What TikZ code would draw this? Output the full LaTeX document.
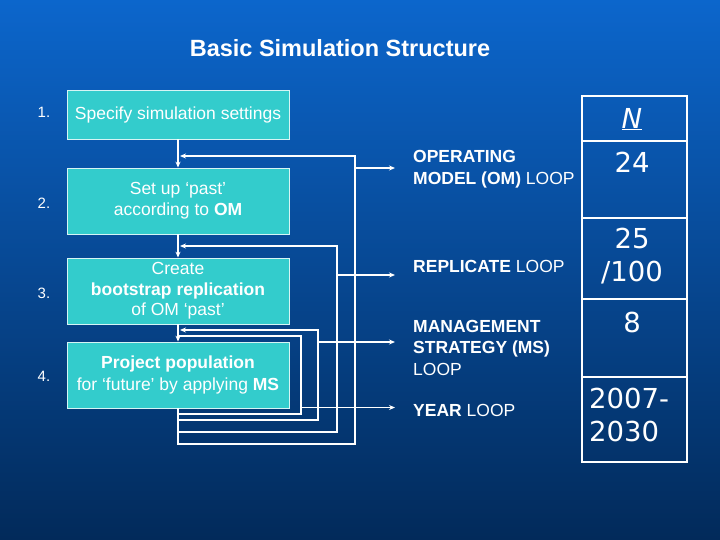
\documentclass[tikz,border=0pt]{standalone}
\usepackage{fontspec}
\setmainfont{Liberation Sans}
\newfontfamily\digitfont{DejaVu Sans}
\usetikzlibrary{arrows.meta}
\definecolor{bgtop}{RGB}{12,102,204}
\definecolor{bgmid}{RGB}{8,76,165}
\definecolor{bgbot}{RGB}{2,42,90}
\definecolor{boxfill}{RGB}{51,204,204}
\begin{document}
\begin{tikzpicture}[x=1pt,y=-1pt,
  stepbox/.style={draw=white!80!boxfill, line width=0.8pt, fill=boxfill, minimum width=222pt, inner sep=0pt, text=white, align=center, font=\fontsize{17.5}{21}\selectfont},
  wire/.style={draw=white, line width=1.3pt},
  arr/.style={wire, -{Stealth[length=6pt,width=5pt]}},
  lbl/.style={text=white, anchor=west, align=left, inner sep=0pt, font=\fontsize{17.5}{21.5}\selectfont},
  num/.style={text=white, font=\fontsize{15}{17}\selectfont, inner sep=0pt},
  cell/.style={draw=white, line width=1.2pt, minimum width=105pt, inner sep=0pt},
  big/.style={text=white, inner sep=0pt, font=\digitfont\fontsize{27.5}{33}\selectfont}]
\useasboundingbox (0,0) rectangle (720,540);
\shade[top color=bgtop, middle color=bgmid, bottom color=bgbot] (0,0) rectangle (720,540);

% title
\node[text=white, font=\bfseries\fontsize{23.5}{28}\selectfont] (title) at (340,48) {Basic Simulation Structure};

% step numbers
\node[num] (n1) at (44,112) {1.};
\node[num] (n2) at (44,203) {2.};
\node[num] (n3) at (44,293) {3.};
\node[num] (n4) at (44,376) {4.};

% step boxes
\node[stepbox, minimum height=49pt] (b1) at (178,114.5) {Specify simulation settings};
\node[stepbox, minimum height=66pt] (b2) at (178,201) {Set up ‘past’\\according to \textbf{OM}};
\node[stepbox, minimum height=66pt, font=\fontsize{17.5}{20.5}\selectfont] (b3) at (178,291) {Create\\\textbf{bootstrap replication}\\of OM ‘past’};
\node[stepbox, minimum height=66pt, font=\fontsize{17.5}{22}\selectfont] (b4) at (178,375) {\textbf{Project population}\\for ‘future’ by applying \textbf{MS}};

% main flow
\draw[arr] (b1.south) -- (b2.north);
\draw[arr] (b2.south) -- (b3.north);
\draw[arr] (b3.south) -- (b4.north);

% loop return coordinates
\coordinate (eA) at (180,156);
\coordinate (eB) at (180,246);
\coordinate (eC) at (180,330);
\coordinate (eD) at (178,336);

\draw[arr] (b4.south) |- (355,444) |- (eA);
\draw[arr] (b4.south) |- (337,432) |- (eB);
\draw[arr] (b4.south) |- (318,420) |- (eC);
\draw[wire] (b4.south) |- (301,414) |- (eD);

% labels
\node[lbl] (om) at (413,169) {\textbf{OPERATING}\\\textbf{MODEL (OM)} LOOP};
\node[lbl] (rep) at (413,266) {\textbf{REPLICATE} LOOP};
\node[lbl] (ms) at (413,347.5) {\textbf{MANAGEMENT}\\\textbf{STRATEGY (MS)}\\LOOP};
\node[lbl] (yr) at (413,410) {\textbf{YEAR} LOOP};

% arrows to labels
\coordinate (sA) at (355,168); \coordinate (tA) at (395,168);
\coordinate (sB) at (337,275); \coordinate (tB) at (395,275);
\coordinate (sC) at (318,342); \coordinate (tC) at (395,342);
\coordinate (sD) at (301,407.5); \coordinate (tD) at (395,407.5);
\draw[arr] (sA) -- (tA);
\draw[arr] (sB) -- (tB);
\draw[arr] (sC) -- (tC);
\draw[arr] (sD) -- (tD);

% table
\node[cell, minimum height=45pt] (c1) at (634.5,118.5) {};
\node[cell, minimum height=77pt] (c2) at (634.5,179.5) {};
\node[cell, minimum height=81pt] (c3) at (634.5,258.5) {};
\node[cell, minimum height=78pt] (c4) at (634.5,338) {};
\node[cell, minimum height=85pt] (c5) at (634.5,419.5) {};

\node[big] (tN) at (632,119) {\underline{\textit{N}}};
\node[big] (t24) at (632,162) {24};
\node[big, align=center] (t25) at (632,256.5) {25\\/100};
\node[big] (t8) at (632,322) {8};
\node[big, anchor=west, align=left] (tyr) at (589,414.5) {2007-\\2030};
\end{tikzpicture}
\end{document}
